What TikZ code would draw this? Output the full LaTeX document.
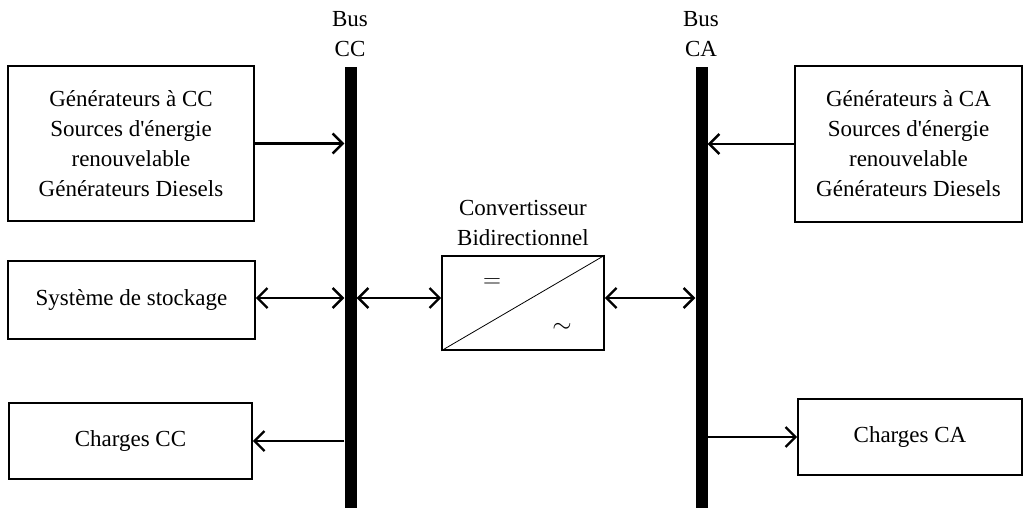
\documentclass[tikz,border=0pt]{standalone}
\usepackage{fontspec}
\setmainfont{Liberation Serif}
\usetikzlibrary{arrows.meta}
\begin{document}
\begin{tikzpicture}
		[x=1pt, y=-1pt,
		every node/.style={font=\fontsize{23}{30}\selectfont, align=center},
		bloc/.style={draw, line width=1.6pt, inner sep=0pt},
		bus/.style={fill=black, inner sep=0pt, minimum width=12pt, minimum height=441pt},
		fleche/.style={line width=2.4pt, >={Straight Barb[length=10pt, width=20pt]}}]
		\useasboundingbox (0,0) rectangle (1030,511);
		\node[bus] (bcc) at (350.5,287.5) {};
		\node[bus] (bca) at (701.5,287.5) {};
		\node (lcc) at (350,34) {Bus\\CC};
		\node (lca) at (701,34) {Bus\\CA};
		\node[bloc, minimum width=246pt, minimum height=155pt] (gencc) at (131,143.5)
			{Générateurs à CC\\Sources d\textquotesingle énergie\\renouvelable\\Générateurs Diesels};
		\node[bloc, minimum width=247pt, minimum height=78pt] (stock) at (131.5,300)
			{Système de stockage};
		\node[bloc, minimum width=243pt, minimum height=76pt] (chcc) at (130.5,441)
			{Charges CC};
		\node[bloc, minimum width=227pt, minimum height=156pt] (genca) at (908.5,144)
			{Générateurs à CA\\Sources d\textquotesingle énergie\\renouvelable\\Générateurs Diesels};
		\node[bloc, minimum width=224pt, minimum height=76pt] (chca) at (910,437)
			{Charges CA};
		\node[bloc, minimum width=162pt, minimum height=94pt] (conv) at (523,303) {};
		\draw[line width=0.8pt] (conv.south west) -- (conv.north east);
		\node (egal) at (492,283) {$=$};
		\node (tilde) at (562,328) {$\sim$};
		\node (lconv) at (523,223) {Convertisseur\\Bidirectionnel};
		\draw[fleche, ->] (gencc.east) -- (gencc.east -| bcc.west);
		\draw[fleche, <->] ([yshift=2pt]stock.east) -- ([yshift=2pt]stock.east -| bcc.west);
		\draw[fleche, ->] (chcc.east -| bcc.west) -- (chcc.east);
		\draw[fleche, <->] ([yshift=5pt]conv.west -| bcc.east) -- ([yshift=5pt]conv.west);
		\draw[fleche, <->] ([yshift=5pt]conv.east) -- ([yshift=5pt]conv.east -| bca.west);
		\draw[fleche, ->] (genca.west) -- (genca.west -| bca.east);
		\draw[fleche, ->] (chca.west -| bca.east) -- (chca.west);
	\end{tikzpicture}
\end{document}
